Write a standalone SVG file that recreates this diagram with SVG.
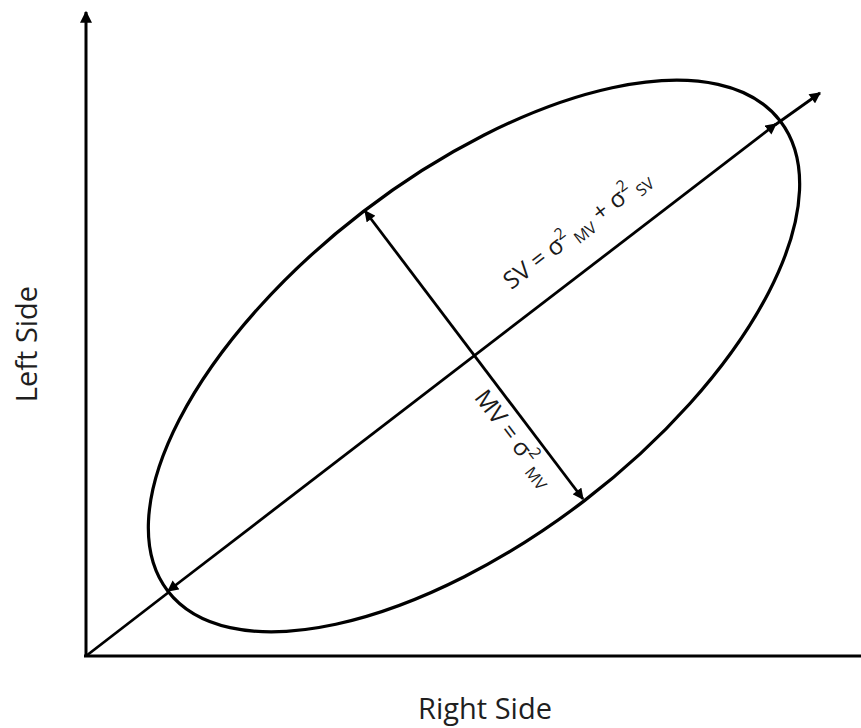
<svg xmlns="http://www.w3.org/2000/svg" width="861" height="728" viewBox="0 0 861 728">
<style>
.ln{stroke:#000;fill:none;stroke-linecap:butt}
.lbl{font-family:"Open Sans","Noto Sans","Liberation Sans",sans-serif;fill:#1f1f1f}
.eq{font-family:"Open Sans","Noto Sans","Liberation Sans",sans-serif;fill:#1a1a1a;font-size:24px}
.sm{font-size:16px}
</style>
<defs>
<marker id="ah" viewBox="0 0 10 10" refX="9" refY="5" markerWidth="4.2" markerHeight="4" markerUnits="strokeWidth" orient="auto-start-reverse">
<path d="M0,0 L10,5 L0,10 Z" fill="#000"/>
</marker>
</defs>
<rect width="861" height="728" fill="#fff"/>
<g id="axes">
<line class="ln" x1="86" y1="657" x2="86" y2="12" stroke-width="3" marker-end="url(#ah)"/>
<line class="ln" x1="84" y1="656" x2="861" y2="656" stroke-width="3"/>
</g>
<g id="ellipse">
<ellipse class="ln" cx="474" cy="356" rx="386" ry="182" transform="rotate(-37.5 474 356)" stroke-width="3.2"/>
</g>
<g id="connectors">
<line class="ln" x1="86" y1="656" x2="169" y2="592" stroke-width="2.8"/>
<line class="ln" x1="168" y1="591" x2="776" y2="124" stroke-width="2.8" marker-start="url(#ah)" marker-end="url(#ah)"/>
<line class="ln" x1="775" y1="125" x2="820" y2="93" stroke-width="2.8" marker-end="url(#ah)"/>
<line class="ln" x1="365" y1="211" x2="583" y2="499" stroke-width="2.8" marker-start="url(#ah)" marker-end="url(#ah)"/>
</g>
<g id="labels">
<text class="lbl" x="485" y="719" font-size="29" text-anchor="middle">Right Side</text>
<text class="lbl" transform="translate(37 344) rotate(-90)" font-size="29" text-anchor="middle">Left Side</text>
<text class="eq" transform="translate(582 236) rotate(-37.5)" text-anchor="middle">SV = σ<tspan class="sm" dy="-10">2</tspan><tspan class="sm" dy="15"> MV</tspan><tspan dy="-5"> + σ</tspan><tspan class="sm" dy="-10">2</tspan><tspan class="sm" dy="15"> SV</tspan></text>
<text class="eq" transform="translate(508 443) rotate(52.7)" text-anchor="middle">MV = σ<tspan class="sm" dy="-10">2</tspan><tspan class="sm" dy="15"> MV</tspan></text>
</g>
</svg>
